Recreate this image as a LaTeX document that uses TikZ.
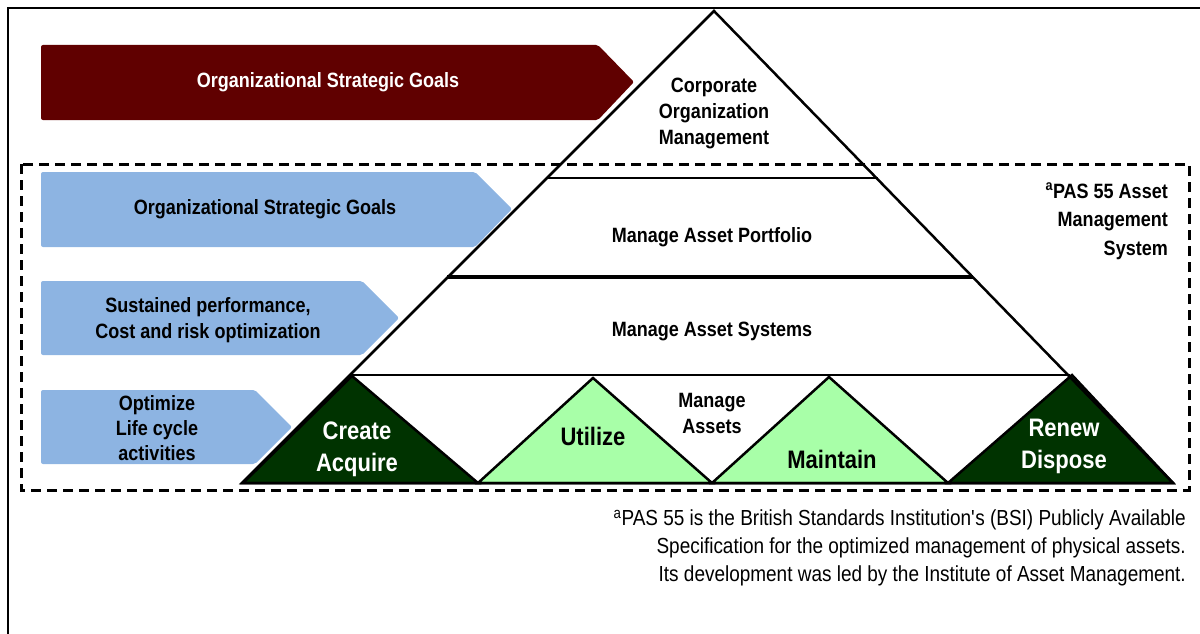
\documentclass[tikz,border=0pt]{standalone}
\usepackage{fontspec}
\setmainfont{Liberation Sans}[FakeStretch=0.87]
\usepackage{xcolor}
\definecolor{goalred}{HTML}{600000}
\definecolor{goalblue}{HTML}{8DB4E2}
\definecolor{darkgreen}{HTML}{003300}
\definecolor{lightgreen}{HTML}{A8FFA8}

\begin{document}
\begin{tikzpicture}[x=1pt,y=-1pt,
  label/.style={font=\bfseries\fontsize{20.7}{26}\selectfont,align=center,inner sep=0pt},
  biglabel/.style={font=\bfseries\fontsize{25.3}{32}\selectfont,align=center,inner sep=0pt},
  edge/.style={line width=2.5pt,line join=miter},
  banner/.style={rounded corners=2pt}]
\useasboundingbox (0,0) rectangle (1200,634);
\draw[line width=2.5pt](8,634)--(8,8)--(1200,8);
\draw[line width=3pt,dash pattern=on 10pt off 6pt](21,164) rectangle (1189,490);
% banners on the left
\fill[goalred,banner](41,45)--(598,45)--(634,82)--(598,120)--(41,120)--cycle;
\node[label,white] (goal) at (328,82){Organizational Strategic Goals};
\fill[goalblue,banner](41,172)--(475,172)--(512,209)--(475,247)--(41,247)--cycle;
\node[label] (goaltwo) at (265,209){Organizational Strategic Goals};
\fill[goalblue,banner](41,281)--(362,281)--(399,318)--(362,355)--(41,355)--cycle;
\node[label] (perf) at (208,320){Sustained performance,\\Cost and risk optimization};
\fill[goalblue,banner](41,390)--(255,390)--(292,427)--(255,464)--(41,464)--cycle;
\node[label,font=\bfseries\fontsize{20.7}{25}\selectfont] (life) at (157,428){Optimize\\Life cycle\\activities};
% life cycle triangles
\filldraw[fill=darkgreen,edge](243,483)--(352,376)--(478,483)--cycle;
\filldraw[fill=lightgreen,edge](478,483)--(593,378)--(712,483)--cycle;
\filldraw[fill=lightgreen,edge](712,483)--(829,377)--(948,483)--cycle;
\filldraw[fill=darkgreen,edge](948,483)--(1072,375)--(1173,483)--cycle;
% pyramid
\coordinate (apex) at (714,11);
\coordinate (baseleft) at (242,483);
\coordinate (baseright) at (1173,483);
\draw[edge](baseleft)--(apex)--(baseright)--cycle;
\draw[line width=2pt](547,178)--(878,178);
\draw[line width=4pt](447,277)--(973,277);
\draw[line width=2pt](352,375)--(1070,375);
\node[label] (corp) at (714,113){Corporate\\Organization\\Management};
\node[label] (portfolio) at (712,237){Manage Asset Portfolio};
\node[label] (systems) at (712,331){Manage Asset Systems};
\node[label] (assets) at (712,413){Manage\\Assets};
\node[biglabel,white] (create) at (357,449){Create\\Acquire};
\node[biglabel] (utilize) at (593,436){Utilize};
\node[biglabel] (maintain) at (832,459){Maintain};
\node[biglabel,white] (renew) at (1064,446){Renew\\Dispose};
\node[label,align=right,anchor=east,font=\bfseries\fontsize{20.7}{28.5}\selectfont] (pas) at (1168,221){\textsuperscript{a}PAS 55 Asset\\Management\\System};
% footnote
\node[anchor=east,align=right,inner sep=0pt,font=\fontsize{21.8}{28}\selectfont] (note) at (1186,548){\textsuperscript{a}PAS 55 is the British Standards Institution\textquotesingle s (BSI) Publicly Available\\Specification for the optimized management of physical assets.\\Its development was led by the Institute of Asset Management.};
\end{tikzpicture}
\end{document}
